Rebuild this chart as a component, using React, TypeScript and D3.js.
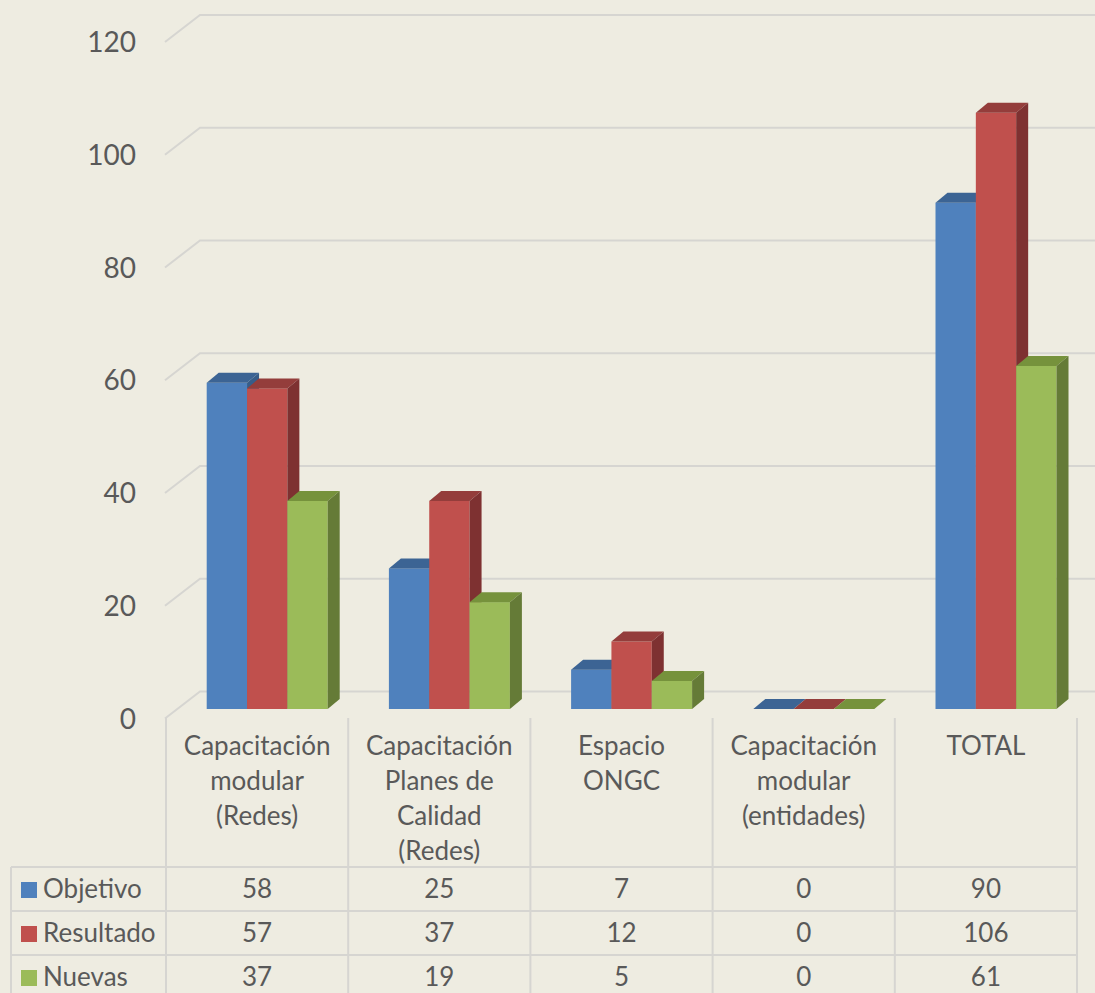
import React from "react";
import * as d3 from "d3";

const categories = [
  "Capacitación modular (Redes)",
  "Capacitación Planes de Calidad (Redes)",
  "Espacio ONGC",
  "Capacitación modular (entidades)",
  "TOTAL",
];
const categoryLines = [
  ["Capacitación", "modular", "(Redes)"],
  ["Capacitación", "Planes de", "Calidad", "(Redes)"],
  ["Espacio", "ONGC"],
  ["Capacitación", "modular", "(entidades)"],
  ["TOTAL"],
];
const seriesNames = ["Objetivo", "Resultado", "Nuevas"];
const objetivo = [58, 25, 7, 0, 90];
const resultado = [57, 37, 12, 0, 106];
const nuevas = [37, 19, 5, 0, 61];
const yTicks = [0, 20, 40, 60, 80, 100, 120];

const seriesValues = [objetivo, resultado, nuevas];
// front / top / side faces
const faceColors = [
  ["#4F81BD", "#3C6494", "#375D89"],
  ["#C0504D", "#943D3B", "#7E3131"],
  ["#9BBB59", "#76923C", "#657B37"],
];

const W = 1095;
const H = 993;
const BG = "#EEECE1";
const GRID = "#D6D5D1";
const TEXT = "#595959";
const FONT = "Lato, 'Open Sans', sans-serif";

export default function App() {
  // back wall and bars (bars sit a bit behind the front plane)
  const yWall = d3.scaleLinear().domain([0, 120]).range([691.5, 15]);
  const yBar = d3.scaleLinear().domain([0, 120]).range([709, 34]);
  const wallDx = 35;
  const wallDy = 27;
  const barDx = 12;
  const barDy = 10;
  const frontX = 165;

  const xCol = d3.scaleBand().domain(categories).range([166, 1077]);
  const xSeries = d3.scaleBand().domain(seriesNames).range([0, 121]);
  const groupOffset = 40.7;

  const rowTop = 867;
  const rowH = 44;
  const tableLeft = 11;
  const headerTop = 718;

  return (
    <svg
      width={W}
      height={H}
      style={{ position: "absolute", left: 0, top: 0, display: "block" }}
      fontFamily={FONT}
    >
      <rect width={W} height={H} fill={BG} />

      {/* gridlines: left wall diagonal + back wall */}
      <g fill="none" stroke={GRID} strokeWidth={2}>
        {yTicks.map((t) => (
          <polyline
            key={t}
            points={`${frontX},${yWall(t) + wallDy} ${frontX + wallDx},${yWall(t)} ${W},${yWall(t)}`}
          />
        ))}
      </g>

      {/* y labels */}
      <g fill={TEXT} fontSize={28} textAnchor="end">
        {yTicks.map((t) => (
          <text key={t} x={136} y={yWall(t) + wallDy + 10}>
            {t}
          </text>
        ))}
      </g>

      {/* bars */}
      {categories.map((c, ci) => (
        <g key={c}>
          {seriesNames.map((s, si) => {
            const v = seriesValues[si][ci];
            const x0 = (xCol(c) as number) + groupOffset + (xSeries(s) as number);
            const w = xSeries.bandwidth();
            const yt = yBar(v);
            const yb = yBar(0);
            const [front, top, side] = faceColors[si];
            return (
              <g key={s}>
                <rect x={x0} y={yt} width={w} height={yb - yt} fill={front} />
                <polygon
                  points={`${x0},${yt} ${x0 + barDx},${yt - barDy} ${x0 + w + barDx},${yt - barDy} ${x0 + w},${yt}`}
                  fill={top}
                />
                <polygon
                  points={`${x0 + w},${yt} ${x0 + w + barDx},${yt - barDy} ${x0 + w + barDx},${yb - barDy} ${x0 + w},${yb}`}
                  fill={side}
                />
              </g>
            );
          })}
        </g>
      ))}

      {/* data table */}
      <g stroke={GRID} strokeWidth={2} fill="none">
        {[...categories.map((c) => xCol(c) as number), 1077].map((x, i) => (
          <line key={i} x1={x} x2={x} y1={headerTop} y2={H} />
        ))}
        <line x1={tableLeft} x2={tableLeft} y1={rowTop} y2={H} />
        {[0, 1, 2, 3].map((r) => (
          <line key={r} x1={tableLeft} x2={1077} y1={rowTop + r * rowH} y2={rowTop + r * rowH} />
        ))}
      </g>

      <g fill={TEXT} fontSize={26} textAnchor="middle">
        {categories.map((c, ci) => {
          const cx = (xCol(c) as number) + xCol.bandwidth() / 2;
          return (
            <g key={c}>
              {categoryLines[ci].map((line, li) => (
                <text key={li} x={cx} y={755 + li * 35}>
                  {line}
                </text>
              ))}
              {seriesNames.map((s, si) => (
                <text key={s} x={cx} y={rowTop + si * rowH + 31}>
                  {seriesValues[si][ci]}
                </text>
              ))}
            </g>
          );
        })}
      </g>

      {/* legend keys in table */}
      {seriesNames.map((s, si) => (
        <g key={s}>
          <rect x={21} y={rowTop + si * rowH + 15} width={16} height={16} fill={faceColors[si][0]} />
          <text x={43} y={rowTop + si * rowH + 31} fill={TEXT} fontSize={26}>
            {s}
          </text>
        </g>
      ))}
    </svg>
  );
}
